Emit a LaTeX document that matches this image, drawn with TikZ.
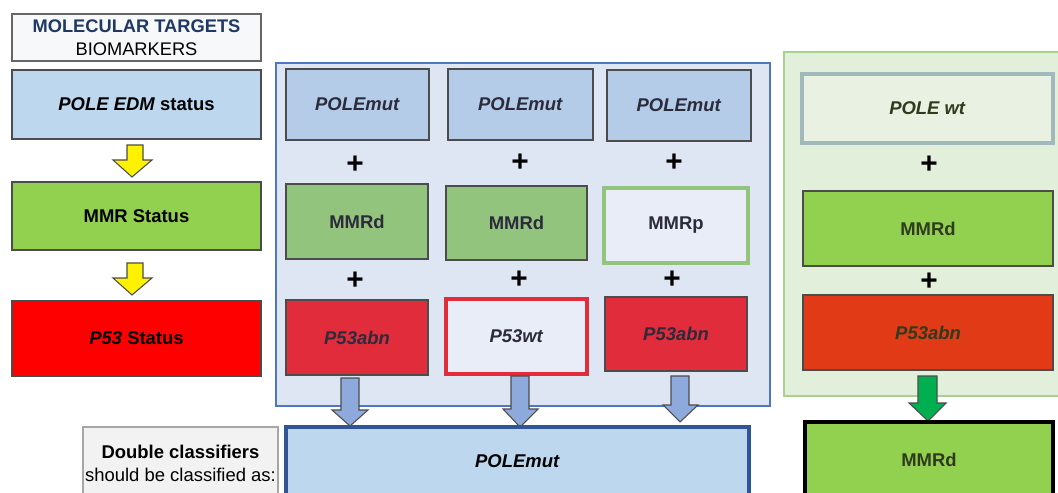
\documentclass[tikz,border=0pt]{standalone}
\usepackage{fontspec}
\setmainfont{Liberation Sans}
\definecolor{titlefill}{HTML}{F7F8FA}
\definecolor{navy}{HTML}{1F3864}
\definecolor{lblue}{HTML}{BDD7EE}
\definecolor{lgreen}{HTML}{92D050}
\definecolor{panelblue}{HTML}{DEE6F4}
\definecolor{panelblueline}{HTML}{4F76C4}
\definecolor{polemut}{HTML}{B4CCE8}
\definecolor{mmrd}{HTML}{93C47D}
\definecolor{p53abn}{HTML}{E12C3C}
\definecolor{bluearrow}{HTML}{8EA9DB}
\definecolor{darkblue}{HTML}{2F5597}
\definecolor{panelgreen}{HTML}{E2EFDA}
\definecolor{panelgreenline}{HTML}{A9D08E}
\definecolor{polewtline}{HTML}{A2B9BC}
\definecolor{polewtfill}{HTML}{E9F1E3}
\definecolor{rred}{HTML}{E03A16}
\definecolor{garrow}{HTML}{00B050}
\definecolor{dctxt}{HTML}{2B2B3B}
\definecolor{rtxt}{HTML}{2F3A1E}
\tikzset{
  bx/.style={draw=#1, line width=0.8pt, inner sep=0pt, font=\fontsize{10.5}{12.5}\selectfont\bfseries, align=center},
  rc/.style args={#1,#2,#3,#4}{at={({(#1+#3)/2},{(#2+#4)/2})}, minimum width={(#3-#1)*0.02cm}, minimum height={(#4-#2)*0.02cm}},
  plus/.style={font=\fontsize{17}{17}\selectfont\bfseries, inner sep=0pt},
  blockarrow/.style={draw=#1, line width=0.6pt, line join=miter}
}
\begin{document}
\begin{tikzpicture}[x=0.02cm,y=-0.02cm]
\useasboundingbox (0,0) rectangle (1058,493);
% panels
\node[bx=panelblueline, fill=panelblue, rc={276,63,770,406}] (bluepanel) {};
\node[bx=panelgreenline, fill=panelgreen, line width=1.2pt, rc={784,52,1064,396}] (greenpanel) {};
% left column
\node[bx=gray!80!black, fill=titlefill, rc={12,14,261,61}, font=\fontsize{10.4}{13}\selectfont\bfseries] (title) {\textcolor{navy}{MOLECULAR TARGETS}\\\mdseries BIOMARKERS};
\node[bx=gray!60!black, fill=lblue, rc={12,70,261,139}] (pole) {\textit{POLE EDM} status};
\node[bx=gray!60!black, fill=lgreen, rc={12,182,261,250}] (mmr) {MMR Status};
\node[bx=gray!60!black, fill=red, rc={12,301,261,376}] (p53) {\textit{P53} Status};
\node[bx=gray!70, fill=black!5, rc={83,427,278,500}, font=\fontsize{10.5}{13}\selectfont] (dc) {\textbf{Double classifiers}\\should be classified as:};
% yellow arrows
\draw[blockarrow=gray!60!black, fill=yellow] (127,145) -- (143,145) -- (143,160) -- (152,160) -- (132,177) -- (113,160) -- (127,160) -- cycle;
\draw[blockarrow=gray!60!black, fill=yellow] (127,263) -- (143,263) -- (143,278) -- (152,278) -- (132,295) -- (113,278) -- (127,278) -- cycle;
% blue panel contents
\begin{scope}[every node/.append style={text=dctxt}]
\node[bx=gray!60!black, fill=polemut, rc={286,69,429,140}] (pm1) {\textit{POLEmut}};
\node[bx=gray!60!black, fill=polemut, rc={448,69,593,140}] (pm2) {\textit{POLEmut}};
\node[bx=gray!60!black, fill=polemut, rc={607,70,751,141}] (pm3) {\textit{POLEmut}};
\node[bx=gray!60!black, fill=mmrd, rc={286,184,428,259}] (md1) {MMRd};
\node[bx=gray!60!black, fill=mmrd, rc={446,186,587,260}] (md2) {MMRd};
\node[bx=mmrd, fill=panelblue!70!white, line width=1.8pt, rc={604,188,748,263}] (mp3) {MMRp};
\node[bx=gray!60!black, fill=p53abn, rc={286,300,428,375}] (pa1) {\textit{P53abn}};
\node[bx=p53abn, fill=panelblue!70!white, line width=1.8pt, rc={446,299,587,374}] (pw2) {\textit{P53wt}};
\node[bx=gray!60!black, fill=p53abn, rc={605,297,747,371}] (pa3) {\textit{P53abn}};
\end{scope}
\node[plus] (p11) at (355,165) {+};
\node[plus] (p12) at (520,163) {+};
\node[plus] (p13) at (674,163) {+};
\node[plus] (p21) at (355,281) {+};
\node[plus] (p22) at (519,280) {+};
\node[plus] (p23) at (672,280) {+};
% blue arrows
\draw[blockarrow=gray!60!black, fill=bluearrow] (341,378) -- (359,378) -- (359,410) -- (368,410) -- (350,426) -- (332,410) -- (341,410) -- cycle;
\draw[blockarrow=gray!60!black, fill=bluearrow] (511,376) -- (529,376) -- (529,409) -- (538,409) -- (520,427) -- (503,409) -- (511,409) -- cycle;
\draw[blockarrow=gray!60!black, fill=bluearrow] (671,376) -- (689,376) -- (689,405) -- (698,405) -- (680,422) -- (663,405) -- (671,405) -- cycle;
% result
\node[bx=darkblue, fill=lblue, line width=2.2pt, rc={286,427,749,496}, text=black] (res) {\textit{POLEmut}};
% green panel contents
\begin{scope}[every node/.append style={text=rtxt}]
\node[bx=polewtline, fill=polewtfill, line width=2pt, rc={802,74,1053,143}] (pwt) {\textit{POLE wt}};
\node[bx=gray!60!black, fill=lgreen, rc={803,191,1053,266}] (rmd) {MMRd};
\node[bx=gray!60!black, fill=rred, rc={803,295,1053,370}] (rpa) {\textit{P53abn}};
\end{scope}
\node[plus] (p31) at (929,165) {+};
\node[plus] (p32) at (929,282) {+};
\draw[blockarrow=gray!60!black, fill=garrow] (918,376) -- (937,376) -- (937,403) -- (946,403) -- (928,421) -- (909,403) -- (918,403) -- cycle;
\node[bx=black, fill=lgreen, line width=2.2pt, rc={805,422,1053,497}, text=rtxt] (rres) {MMRd};
\end{tikzpicture}
\end{document}
